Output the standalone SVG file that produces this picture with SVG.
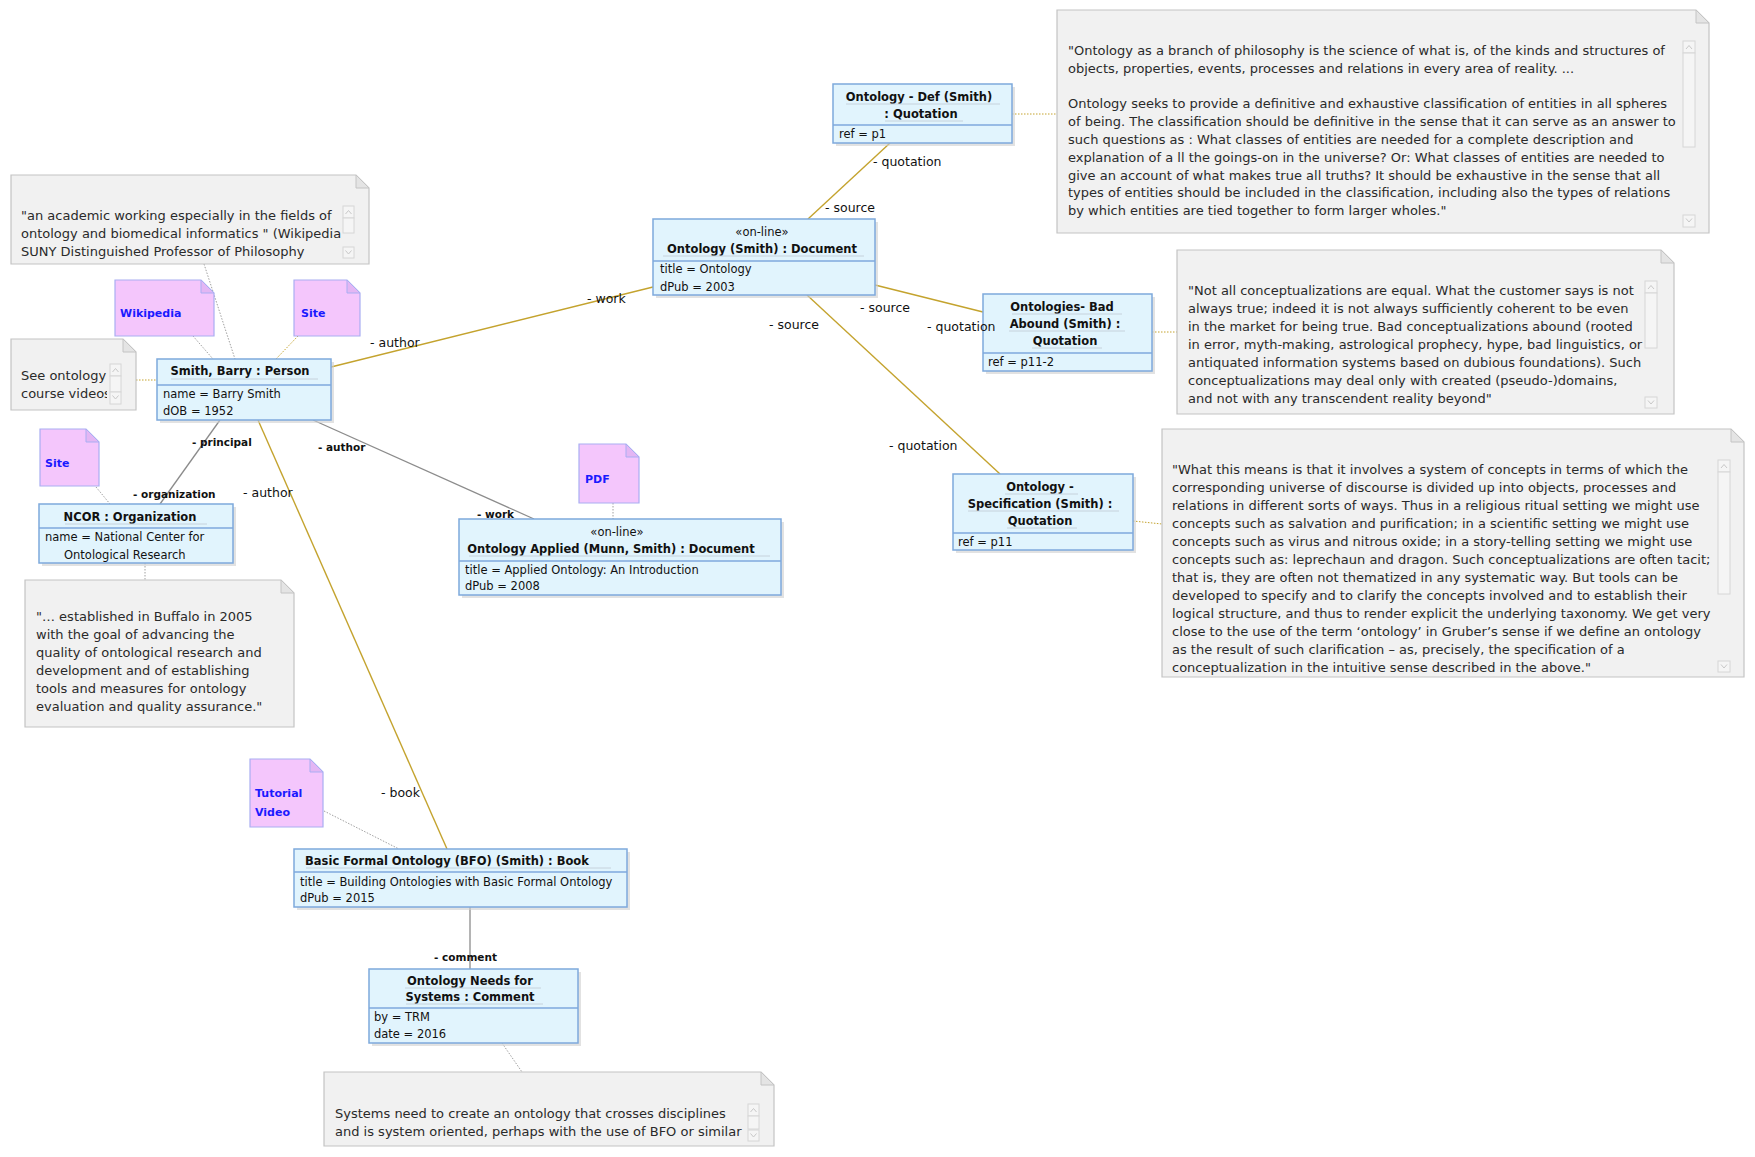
<svg xmlns="http://www.w3.org/2000/svg" width="1755" height="1157" viewBox="0 0 1755 1157">
<style>
.bg{fill:#ffffff}
.box{fill:#e1f4fd;stroke:#7ea9dc;stroke-width:1.5}
.shadow{fill:#cfcfcf;opacity:0.6}
.div{stroke:#7ea9dc;stroke-width:1.5}
.ul{stroke:#c6d2dc;stroke-width:1}
.t{font-family:"DejaVu Sans","Liberation Sans",sans-serif;font-size:11.5px;font-weight:bold;fill:#111;text-anchor:middle}
.st{font-family:"DejaVu Sans","Liberation Sans",sans-serif;font-size:11.5px;fill:#111;text-anchor:middle}
.a{font-family:"DejaVu Sans","Liberation Sans",sans-serif;font-size:11.5px;fill:#111}
.note{fill:#f1f1f1;stroke:#c4c4c4;stroke-width:1.2}
.fold{fill:#e4e4e4;stroke:#c4c4c4;stroke-width:1}
.nt{font-family:"DejaVu Sans","Liberation Sans",sans-serif;font-size:13px;fill:#2a2a2a}
.pink{fill:#f4c6fc;stroke:#a9aef2;stroke-width:1.2}
.pfold{fill:#e3b6f4;stroke:#a9aef2;stroke-width:1}
.lk{font-family:"DejaVu Sans","Liberation Sans",sans-serif;font-size:11px;font-weight:bold;fill:#1a1aff}
.sb{fill:#f5f5f5;stroke:#d6d6d6;stroke-width:1}
.chev{fill:none;stroke:#c8c8c8;stroke-width:1}
.ol{stroke:#c4a32e;stroke-width:1.4;fill:none}
.gr{stroke:#8c8c8c;stroke-width:1.3;fill:none}
.old{stroke:#c4a32e;stroke-width:1;stroke-dasharray:1.5 1.5;fill:none}
.grd{stroke:#a0a0a0;stroke-width:1;stroke-dasharray:1.5 1.5;fill:none}
.lb{font-family:"DejaVu Sans","Liberation Sans",sans-serif;font-size:12.5px;fill:#111}
.lbb{font-family:"DejaVu Sans","Liberation Sans",sans-serif;font-size:10.5px;font-weight:bold;fill:#111}
</style>
<defs>
<clipPath id="clipTL"><rect x="12" y="176" width="330" height="87"/></clipPath>
<clipPath id="clipSO"><rect x="12" y="340" width="95" height="69"/></clipPath>
</defs>
<rect class="bg" x="0" y="0" width="1755" height="1157"/>

<g id="connectors">
<line class="ol" x1="331" y1="367" x2="653" y2="287"/>
<line class="ol" x1="258" y1="420" x2="447" y2="849"/>
<line class="ol" x1="808" y1="219" x2="890" y2="143"/>
<line class="ol" x1="875" y1="285" x2="983" y2="312"/>
<line class="ol" x1="807" y1="295" x2="1000" y2="474"/>
<line class="gr" x1="220" y1="420" x2="160" y2="504"/>
<line class="gr" x1="313" y1="420" x2="534" y2="519"/>
<line class="gr" x1="470" y1="907" x2="470" y2="969"/>
<line class="grd" x1="204" y1="264" x2="235" y2="359"/>
<line class="grd" x1="193" y1="336" x2="213" y2="359"/>
<line class="old" x1="298" y1="336" x2="276" y2="359"/>
<line class="old" x1="136" y1="380" x2="157" y2="380"/>
<line class="grd" x1="96" y1="487" x2="110" y2="504"/>
<line class="grd" x1="145" y1="563" x2="145" y2="580"/>
<line class="grd" x1="613" y1="503" x2="613" y2="519"/>
<line class="old" x1="1012" y1="114" x2="1057" y2="114"/>
<line class="old" x1="1152" y1="332" x2="1177" y2="332"/>
<line class="old" x1="1133" y1="521" x2="1162" y2="524"/>
<line class="grd" x1="324" y1="811" x2="399" y2="849"/>
<line class="grd" x1="502" y1="1043" x2="522" y2="1072"/>
</g>

<g id="note-smith">
<polygon class="note" points="11,175 356,175 369,188 369,264 11,264"/>
<polygon class="fold" points="356,175 356,188 369,188"/>
<g clip-path="url(#clipTL)">
<text class="nt" x="21" y="220">"an academic working especially in the fields of</text>
<text class="nt" x="21" y="238">ontology and biomedical informatics  " (Wikipedia)</text>
<text class="nt" x="21" y="256">SUNY Distinguished Professor of Philosophy</text>
</g>
<rect class="sb" x="343" y="206" width="11" height="12"/><polyline class="chev" points="345.5,214 348.5,210.5 351.5,214"/>
<rect class="sb" x="343" y="218" width="11" height="15"/>
<rect class="sb" x="343" y="247" width="11" height="11"/><polyline class="chev" points="345.5,250.5 348.5,254 351.5,250.5"/>
</g>

<g id="note-course">
<polygon class="note" points="11,339 123,339 136,352 136,410 11,410"/>
<polygon class="fold" points="123,339 123,352 136,352"/>
<g clip-path="url(#clipSO)">
<text class="nt" x="21" y="380">See ontology</text>
<text class="nt" x="21" y="398">course videos</text>
</g>
<rect class="sb" x="110" y="364" width="11" height="12"/><polyline class="chev" points="112.5,372 115.5,368.5 118.5,372"/>
<rect class="sb" x="110" y="376" width="11" height="16"/>
<rect class="sb" x="110" y="392" width="11" height="12"/><polyline class="chev" points="112.5,395.5 115.5,399 118.5,395.5"/>
</g>

<g id="link-wikipedia">
<polygon class="pink" points="115,280 201,280 214,293 214,336 115,336"/>
<polygon class="pfold" points="201,280 201,293 214,293"/>
<text class="lk" x="120" y="317">Wikipedia</text>
</g>
<g id="link-site1">
<polygon class="pink" points="294,280 347,280 360,293 360,336 294,336"/>
<polygon class="pfold" points="347,280 347,293 360,293"/>
<text class="lk" x="301" y="317">Site</text>
</g>
<g id="link-site2">
<polygon class="pink" points="40,429 86,429 99,442 99,486 40,486"/>
<polygon class="pfold" points="86,429 86,442 99,442"/>
<text class="lk" x="45" y="467">Site</text>
</g>
<g id="link-pdf">
<polygon class="pink" points="579,444 626,444 639,457 639,503 579,503"/>
<polygon class="pfold" points="626,444 626,457 639,457"/>
<text class="lk" x="585" y="483">PDF</text>
</g>
<g id="link-tutorial">
<polygon class="pink" points="250,759 310,759 323,772 323,827 250,827"/>
<polygon class="pfold" points="310,759 310,772 323,772"/>
<text class="lk" x="255" y="797">Tutorial</text>
<text class="lk" x="255" y="816">Video</text>
</g>

<g id="smith">
<rect class="shadow" x="160" y="362" width="174" height="61"/>
<rect class="box" x="157" y="359" width="174" height="61"/>
<line class="div" x1="157" y1="385" x2="331" y2="385"/>
<text class="t" x="240" y="375">Smith, Barry : Person</text>
<line class="ul" x1="171" y1="379" x2="318" y2="379"/>
<text class="a" x="163" y="398">name = Barry Smith</text>
<text class="a" x="163" y="415">dOB = 1952</text>
</g>

<g id="ncor">
<rect class="shadow" x="42" y="507" width="194" height="59"/>
<rect class="box" x="39" y="504" width="194" height="59"/>
<line class="div" x1="39" y1="528" x2="233" y2="528"/>
<text class="t" x="130" y="521">NCOR : Organization</text>
<line class="ul" x1="65" y1="524" x2="207" y2="524"/>
<text class="a" x="45" y="541">name = National Center for</text>
<text class="a" x="64" y="559">Ontological Research</text>
</g>

<g id="note-ncor">
<polygon class="note" points="25,580 281,580 294,593 294,727 25,727"/>
<polygon class="fold" points="281,580 281,593 294,593"/>
<text class="nt" x="36" y="621">"… established in Buffalo in 2005</text>
<text class="nt" x="36" y="639">with the goal of advancing the</text>
<text class="nt" x="36" y="657">quality of ontological research and</text>
<text class="nt" x="36" y="675">development and of establishing</text>
<text class="nt" x="36" y="693">tools and measures for ontology</text>
<text class="nt" x="36" y="711">evaluation and quality assurance."</text>
</g>

<g id="doc-ontology">
<rect class="shadow" x="656" y="222" width="222" height="76"/>
<rect class="box" x="653" y="219" width="222" height="76"/>
<line class="div" x1="653" y1="261" x2="875" y2="261"/>
<text class="st" x="762" y="236">«on-line»</text>
<text class="t" x="762" y="253">Ontology (Smith) : Document</text>
<line class="ul" x1="663" y1="256" x2="864" y2="256"/>
<text class="a" x="660" y="273">title = Ontology</text>
<text class="a" x="660" y="291">dPub = 2003</text>
</g>

<g id="quote-def">
<rect class="shadow" x="836" y="87" width="179" height="59"/>
<rect class="box" x="833" y="84" width="179" height="59"/>
<line class="div" x1="833" y1="125" x2="1012" y2="125"/>
<text class="t" x="919" y="101">Ontology - Def (Smith)</text>
<line class="ul" x1="846" y1="104" x2="1000" y2="104"/>
<text class="t" x="921" y="118">: Quotation</text>
<line class="ul" x1="885" y1="121" x2="963" y2="121"/>
<text class="a" x="839" y="138">ref = p1</text>
</g>

<g id="note-def">
<polygon class="note" points="1057,10 1696,10 1709,23 1709,233 1057,233"/>
<polygon class="fold" points="1696,10 1696,23 1709,23"/>
<text class="nt" x="1068" y="55">"Ontology as a branch of philosophy is the science of what is, of the kinds and structures of</text>
<text class="nt" x="1068" y="72.8">objects, properties, events, processes and relations in every area of reality. ...</text>
<text class="nt" x="1068" y="108.4">Ontology seeks to provide a definitive and exhaustive classification of entities in all spheres</text>
<text class="nt" x="1068" y="126.2">of being. The classification should be definitive in the sense that it can serve as an answer to</text>
<text class="nt" x="1068" y="144">such questions as : What classes of entities are needed for a complete description and</text>
<text class="nt" x="1068" y="161.8">explanation of a ll the goings-on in the universe? Or: What classes of entities are needed to</text>
<text class="nt" x="1068" y="179.6">give an account of what makes true all truths? It should be exhaustive in the sense that all</text>
<text class="nt" x="1068" y="197.4">types of entities should be included in the classification, including also the types of relations</text>
<text class="nt" x="1068" y="215.2">by which entities are tied together to form larger wholes."</text>
<rect class="sb" x="1683" y="41" width="12" height="12"/><polyline class="chev" points="1686,49 1689,45.5 1692,49"/>
<rect class="sb" x="1683" y="53" width="12" height="94"/>
<rect class="sb" x="1683" y="215" width="12" height="12"/><polyline class="chev" points="1686,218.5 1689,222 1692,218.5"/>
</g>

<g id="quote-bad">
<rect class="shadow" x="986" y="297" width="169" height="77"/>
<rect class="box" x="983" y="294" width="169" height="77"/>
<line class="div" x1="983" y1="353" x2="1152" y2="353"/>
<text class="t" x="1062" y="311">Ontologies- Bad</text>
<line class="ul" x1="1012" y1="314" x2="1122" y2="314"/>
<text class="t" x="1065" y="328">Abound (Smith) :</text>
<line class="ul" x1="1009" y1="331" x2="1125" y2="331"/>
<text class="t" x="1065" y="345">Quotation</text>
<line class="ul" x1="1032" y1="348" x2="1102" y2="348"/>
<text class="a" x="988" y="366">ref = p11-2</text>
</g>

<g id="note-bad">
<polygon class="note" points="1177,250 1661,250 1674,263 1674,414 1177,414"/>
<polygon class="fold" points="1661,250 1661,263 1674,263"/>
<text class="nt" x="1188" y="295">"Not all conceptualizations are equal. What the customer says is not</text>
<text class="nt" x="1188" y="313">always true; indeed it is not always sufficiently coherent to be even</text>
<text class="nt" x="1188" y="331">in the market for being true. Bad conceptualizations abound (rooted</text>
<text class="nt" x="1188" y="349">in error, myth-making, astrological prophecy, hype, bad linguistics, or</text>
<text class="nt" x="1188" y="367">antiquated information systems based on dubious foundations). Such</text>
<text class="nt" x="1188" y="385">conceptualizations may deal only with created (pseudo-)domains,</text>
<text class="nt" x="1188" y="403">and not with any transcendent reality beyond"</text>
<rect class="sb" x="1645" y="281" width="12" height="12"/><polyline class="chev" points="1648,289 1651,285.5 1654,289"/>
<rect class="sb" x="1645" y="293" width="12" height="55"/>
<rect class="sb" x="1645" y="397" width="12" height="11"/><polyline class="chev" points="1648,400.5 1651,404 1654,400.5"/>
</g>

<g id="quote-spec">
<rect class="shadow" x="956" y="477" width="180" height="76"/>
<rect class="box" x="953" y="474" width="180" height="76"/>
<line class="div" x1="953" y1="533" x2="1133" y2="533"/>
<text class="t" x="1040" y="491">Ontology -</text>
<line class="ul" x1="1005" y1="494" x2="1078" y2="494"/>
<text class="t" x="1040" y="508">Specification (Smith) :</text>
<line class="ul" x1="968" y1="511" x2="1119" y2="511"/>
<text class="t" x="1040" y="525">Quotation</text>
<line class="ul" x1="1007" y1="528" x2="1077" y2="528"/>
<text class="a" x="958" y="546">ref = p11</text>
</g>

<g id="note-spec">
<polygon class="note" points="1162,429 1731,429 1744,442 1744,677 1162,677"/>
<polygon class="fold" points="1731,429 1731,442 1744,442"/>
<text class="nt" x="1172" y="474">"What this means is that it involves a system of concepts in terms of which the</text>
<text class="nt" x="1172" y="492">corresponding universe of discourse is divided up into objects, processes and</text>
<text class="nt" x="1172" y="510">relations in different sorts of ways. Thus in a religious ritual setting we might use</text>
<text class="nt" x="1172" y="528">concepts such as salvation and purification; in a scientific setting we might use</text>
<text class="nt" x="1172" y="546">concepts such as virus and nitrous oxide; in a story-telling setting we might use</text>
<text class="nt" x="1172" y="564">concepts such as: leprechaun and dragon. Such conceptualizations are often tacit;</text>
<text class="nt" x="1172" y="582">that is, they are often not thematized in any systematic way. But tools can be</text>
<text class="nt" x="1172" y="600">developed to specify and to clarify the concepts involved and to establish their</text>
<text class="nt" x="1172" y="618">logical structure, and thus to render explicit the underlying taxonomy. We get very</text>
<text class="nt" x="1172" y="636">close to the use of the term ‘ontology’ in Gruber’s sense if we define an ontology</text>
<text class="nt" x="1172" y="654">as the result of such clarification – as, precisely, the specification of a</text>
<text class="nt" x="1172" y="672">conceptualization in the intuitive sense described in the above."</text>
<rect class="sb" x="1718" y="460" width="12" height="12"/><polyline class="chev" points="1721,468 1724,464.5 1727,468"/>
<rect class="sb" x="1718" y="472" width="12" height="122"/>
<rect class="sb" x="1718" y="661" width="12" height="11"/><polyline class="chev" points="1721,664.5 1724,668 1727,664.5"/>
</g>

<g id="doc-applied">
<rect class="shadow" x="462" y="522" width="322" height="76"/>
<rect class="box" x="459" y="519" width="322" height="76"/>
<line class="div" x1="459" y1="561" x2="781" y2="561"/>
<text class="st" x="617" y="536">«on-line»</text>
<text class="t" x="611" y="553">Ontology Applied (Munn, Smith) : Document</text>
<line class="ul" x1="469" y1="556" x2="770" y2="556"/>
<text class="a" x="465" y="574">title = Applied Ontology: An Introduction</text>
<text class="a" x="465" y="590">dPub = 2008</text>
</g>

<g id="book-bfo">
<rect class="shadow" x="297" y="852" width="333" height="58"/>
<rect class="box" x="294" y="849" width="333" height="58"/>
<line class="div" x1="294" y1="872" x2="627" y2="872"/>
<text class="t" x="447" y="865">Basic Formal Ontology (BFO) (Smith) : Book</text>
<line class="ul" x1="306" y1="868" x2="611" y2="868"/>
<text class="a" x="300" y="886">title = Building Ontologies with Basic Formal Ontology</text>
<text class="a" x="300" y="902">dPub = 2015</text>
</g>

<g id="comment">
<rect class="shadow" x="372" y="972" width="209" height="74"/>
<rect class="box" x="369" y="969" width="209" height="74"/>
<line class="div" x1="369" y1="1008" x2="578" y2="1008"/>
<text class="t" x="470" y="985">Ontology Needs for</text>
<line class="ul" x1="405" y1="988" x2="541" y2="988"/>
<text class="t" x="470" y="1001">Systems : Comment</text>
<line class="ul" x1="406" y1="1004" x2="543" y2="1004"/>
<text class="a" x="374" y="1021">by = TRM</text>
<text class="a" x="374" y="1038">date = 2016</text>
</g>

<g id="note-comment">
<polygon class="note" points="324,1072 761,1072 774,1085 774,1146 324,1146"/>
<polygon class="fold" points="761,1072 761,1085 774,1085"/>
<text class="nt" x="335" y="1118">Systems need to create an ontology that crosses disciplines</text>
<text class="nt" x="335" y="1136">and is system oriented, perhaps with the use of BFO or similar</text>
<rect class="sb" x="748" y="1104" width="11" height="12"/><polyline class="chev" points="750.5,1112 753.5,1108.5 756.5,1112"/>
<rect class="sb" x="748" y="1116" width="11" height="13"/>
<rect class="sb" x="748" y="1130" width="11" height="11"/><polyline class="chev" points="750.5,1133.5 753.5,1137 756.5,1133.5"/>
</g>

<g id="connector-labels">
<text class="lb" x="370" y="347">- author</text>
<text class="lb" x="587" y="303">- work</text>
<text class="lb" x="873" y="166">- quotation</text>
<text class="lb" x="825" y="212">- source</text>
<text class="lb" x="860" y="312">- source</text>
<text class="lb" x="927" y="331">- quotation</text>
<text class="lb" x="769" y="329">- source</text>
<text class="lb" x="889" y="450">- quotation</text>
<text class="lb" x="243" y="497">- author</text>
<text class="lb" x="381" y="797">- book</text>
<text class="lbb" x="192" y="446">- principal</text>
<text class="lbb" x="133" y="498">- organization</text>
<text class="lbb" x="318" y="451">- author</text>
<text class="lbb" x="477" y="518">- work</text>
<text class="lbb" x="434" y="961">- comment</text>
</g>
</svg>
